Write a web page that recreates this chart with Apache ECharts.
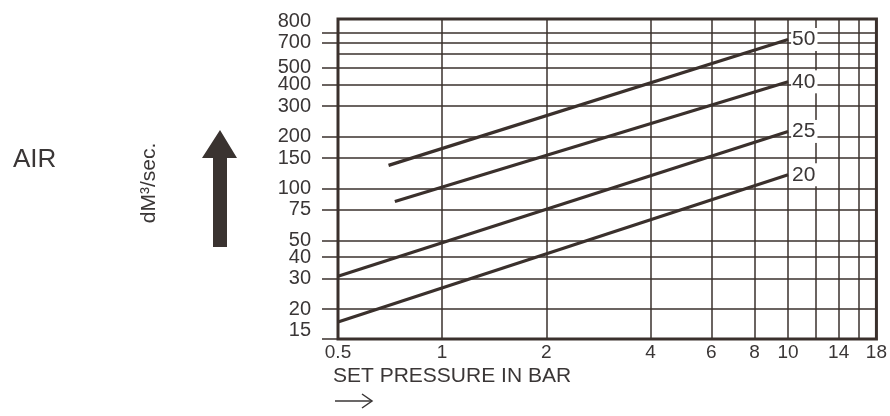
<!DOCTYPE html>
<html>
<head>
<meta charset="utf-8">
<script src="https://cdn.jsdelivr.net/npm/echarts@6/dist/echarts.min.js"></script>
<style>
  html, body { margin: 0; padding: 0; background: #fff; }
  #chart { width: 890px; height: 416px; }
</style>
</head>
<body>
<div id="chart"></div>
<script>
// ---- data ----
const seriesNames = ['50', '40', '25', '20'];
const pressure50 = [0.70, 10];
const flow50 = [136, 730];
const pressure40 = [0.73, 10];
const flow40 = [84, 415];
const pressure25 = [0.5, 10];
const flow25 = [31, 214];
const pressure20 = [0.5, 10];
const flow20 = [16.8, 120];

const xTickLabels = [0.5, 1, 2, 4, 6, 8, 10, 14, 18];
const xGridValues = [1, 2, 4, 6, 8, 10, 12, 14, 16];
const yTickLabels = [15, 20, 30, 40, 50, 75, 100, 150, 200, 300, 400, 500, 700, 800];
const yGridValues = [20, 30, 40, 50, 75, 100, 150, 200, 300, 400, 500, 600, 700, 800];
const yOuterTicks = [13.45, 20, 30, 40, 50, 75, 100, 150, 200, 300, 400, 500, 700, 800];

const xMin = 0.5, xMax = 18;
const yMin = 13.4, yMax = 960;

const ink = '#3a302c';
const textColor = '#3a3636';
const font = "'Liberation Sans', Arial, sans-serif";

function pairs(xs, ys) { return xs.map((x, i) => [x, ys[i]]); }
const allData = [
  pairs(pressure50, flow50),
  pairs(pressure40, flow40),
  pairs(pressure25, flow25),
  pairs(pressure20, flow20)
];

const chart = echarts.init(document.getElementById('chart'), null, { renderer: 'canvas' });

const option = {
  animation: false,
  backgroundColor: '#fff',
  grid: {
    left: 338, right: 9, top: 19, bottom: 77,
    show: true, borderColor: ink, borderWidth: 3, backgroundColor: 'transparent'
  },
  xAxis: {
    type: 'log', logBase: 10, min: xMin, max: xMax,
    axisLine: { show: false },
    axisTick: { show: false, customValues: xGridValues },
    splitLine: { show: true, lineStyle: { color: ink, width: 1.5 } },
    axisLabel: {
      customValues: xTickLabels, margin: 4,
      fontSize: 19, fontFamily: font, color: textColor,
      formatter: v => String(+(+v).toPrecision(3))
    }
  },
  yAxis: [
    {
      type: 'log', logBase: 10, min: yMin, max: yMax,
      axisLine: { show: false },
      axisTick: { show: false, customValues: yGridValues },
      splitLine: { show: true, lineStyle: { color: ink, width: 1.5 } },
      axisLabel: {
        customValues: yTickLabels, margin: 27,
        fontSize: 20, fontFamily: font, color: textColor,
        formatter: v => {
          const n = +(+v).toPrecision(3);
          return n === 800 ? '{up|800}' : String(n);
        },
        rich: {
          up: { fontSize: 20, fontFamily: font, color: textColor, padding: [0, 0, 22, 0] }
        }
      }
    },
    {
      type: 'log', logBase: 10, min: yMin, max: yMax, position: 'left',
      axisLine: { show: false },
      axisTick: { show: true, inside: false, length: 16, customValues: yOuterTicks,
                  lineStyle: { color: ink, width: 1.5 } },
      splitLine: { show: false },
      axisLabel: { show: false }
    }
  ],
  series: seriesNames.map((name, i) => ({
    name: name,
    type: 'line',
    yAxisIndex: 0,
    data: allData[i],
    symbol: 'none',
    z: 5,
    lineStyle: { color: ink, width: 3.2 },
    endLabel: {
      show: true, formatter: name, distance: 3,
      fontSize: 21, fontFamily: font, color: textColor,
      backgroundColor: '#fff', padding: [1, 2, 1, 1]
    }
  })),
  graphic: [
    { type: 'text', left: 13, top: 147,
      style: { text: 'AIR', fontSize: 26, fontFamily: font, fill: textColor } },
    { type: 'text', x: 149, y: 183, rotation: Math.PI / 2,
      style: { text: 'dM³/sec.', fontSize: 21, fontFamily: font, fill: textColor,
               align: 'center', verticalAlign: 'middle' } },
    { type: 'polygon',
      shape: { points: [[220, 130], [237, 158], [227, 158], [227, 247], [213, 247], [213, 158], [202, 158]] },
      style: { fill: '#3a3330' } },
    { type: 'text', left: 333, top: 366,
      style: { text: 'SET PRESSURE IN BAR', fontSize: 21, fontFamily: font, fill: textColor } },
    { type: 'polyline', shape: { points: [[335, 401], [372, 401]] },
      style: { stroke: textColor, lineWidth: 1.5, fill: null } },
    { type: 'polyline', shape: { points: [[362, 394], [372, 401], [362, 408]] },
      style: { stroke: textColor, lineWidth: 1.5, fill: null } }
  ]
};

chart.setOption(option);
</script>
</body>
</html>
